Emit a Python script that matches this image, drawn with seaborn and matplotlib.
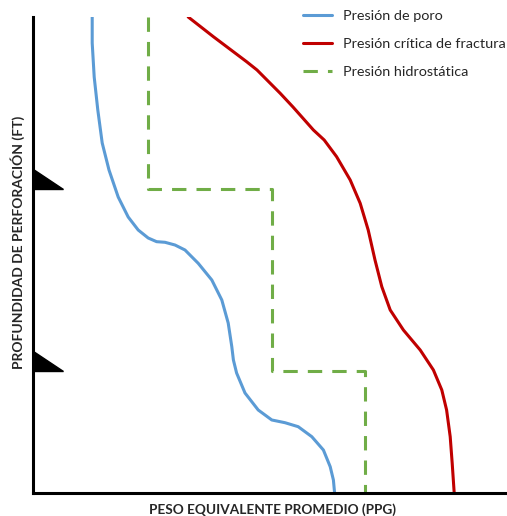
import matplotlib.pyplot as plt
import seaborn as sns
from matplotlib.patches import Polygon

# ---- data (ppg vs depth in ft) ----
pore_depth = [0, 546, 1261, 1954, 2647, 3214, 3782, 4202, 4475, 4643, 4720, 4733, 4790,
              4895, 5174, 5525, 5945, 6429, 6926, 7206, 7479, 7899, 8256, 8466, 8523,
              8607, 8817, 9097, 9447, 9727, 10000]
pore_ppg = [9.48, 9.48, 9.53, 9.62, 9.73, 9.90, 10.13, 10.38, 10.63, 10.88, 11.09, 11.30, 11.55,
            11.80, 12.13, 12.47, 12.72, 12.88, 12.97, 13.01, 13.09, 13.30, 13.63, 13.97, 14.30,
            14.63, 14.97, 15.26, 15.43, 15.51, 15.54]

frac_depth = [0, 414, 939, 1113, 1603, 1891, 2374, 2584, 2935, 3424, 3914, 4475, 5105,
              5666, 6155, 6576, 6996, 7416, 7836, 8256, 8817, 9376, 10000]
frac_ppg = [11.88, 12.51, 13.34, 13.60, 14.18, 14.50, 15.01, 15.28, 15.59, 15.93, 16.18,
            16.38, 16.55, 16.72, 16.93, 17.26, 17.68, 18.01, 18.22, 18.34, 18.43, 18.48, 18.53]

hydro_depth = [0, 3613, 3613, 7437, 7437, 10000]
hydro_ppg = [10.88, 10.88, 13.98, 13.98, 16.30, 16.30]

casing_depths = [3613, 7437]

labels = ["Presión de poro", "Presión crítica de fractura", "Presión hidrostática"]
colors = ["#5B9BD5", "#C00000", "#70AD47"]

# ---- style ----
sns.set_style("white")
plt.rcParams['font.family'] = ['Lato', 'DejaVu Sans']

W, H = 507, 516
fig = plt.figure(figsize=(W / 100, H / 100), dpi=100)
ax = fig.add_axes([33 / W, 23 / H, 474 / W, 476 / H])

lw = 2.2
sns.lineplot(x=pore_ppg, y=pore_depth, orient="y", sort=False, estimator=None,
             color=colors[0], linewidth=lw, label=labels[0], ax=ax)
sns.lineplot(x=frac_ppg, y=frac_depth, orient="y", sort=False, estimator=None,
             color=colors[1], linewidth=lw, label=labels[1], ax=ax)
sns.lineplot(x=hydro_ppg, y=hydro_depth, orient="y", sort=False, estimator=None,
             color=colors[2], linewidth=lw, linestyle=(0, (4.7, 3.3)),
             label=labels[2], ax=ax)
for line in ax.lines:
    line.set_solid_joinstyle("round")

xmin, xmax = 8, 8 + 474 / 40
ax.set_xlim(xmin, xmax)
ax.set_ylim(10000, 0)

# casing shoe markers on the depth axis
tri_h, tri_w = 420, 0.75
for d in casing_depths:
    ax.add_patch(Polygon([[xmin, d - tri_h], [xmin, d], [xmin + tri_w, d]],
                         closed=True, facecolor="black", edgecolor="black",
                         clip_on=False, zorder=5))

# spines / ticks
for s in ["top", "right"]:
    ax.spines[s].set_visible(False)
for s in ["left", "bottom"]:
    ax.spines[s].set_color("black")
    ax.spines[s].set_linewidth(2.2)
ax.set_xticks([])
ax.set_yticks([])

ax.set_xlabel("PESO EQUIVALENTE PROMEDIO (PPG)", fontsize=9.8, fontweight="bold")
ax.xaxis.set_label_coords(0.505, -0.021)
ax.set_ylabel("PROFUNDIDAD DE PERFORACIÓN (FT)", fontsize=10, fontweight="bold")
ax.yaxis.set_label_coords(-0.017, 0.527)

leg = ax.legend(loc="upper left", bbox_to_anchor=(303 / W, 1 - 10 / H),
                bbox_transform=fig.transFigure, frameon=False, fontsize=10.4,
                handlelength=2.0, handletextpad=0.75, labelspacing=1.1,
                borderpad=0, borderaxespad=0)

fig.savefig("out.png", dpi=100, facecolor="white")
